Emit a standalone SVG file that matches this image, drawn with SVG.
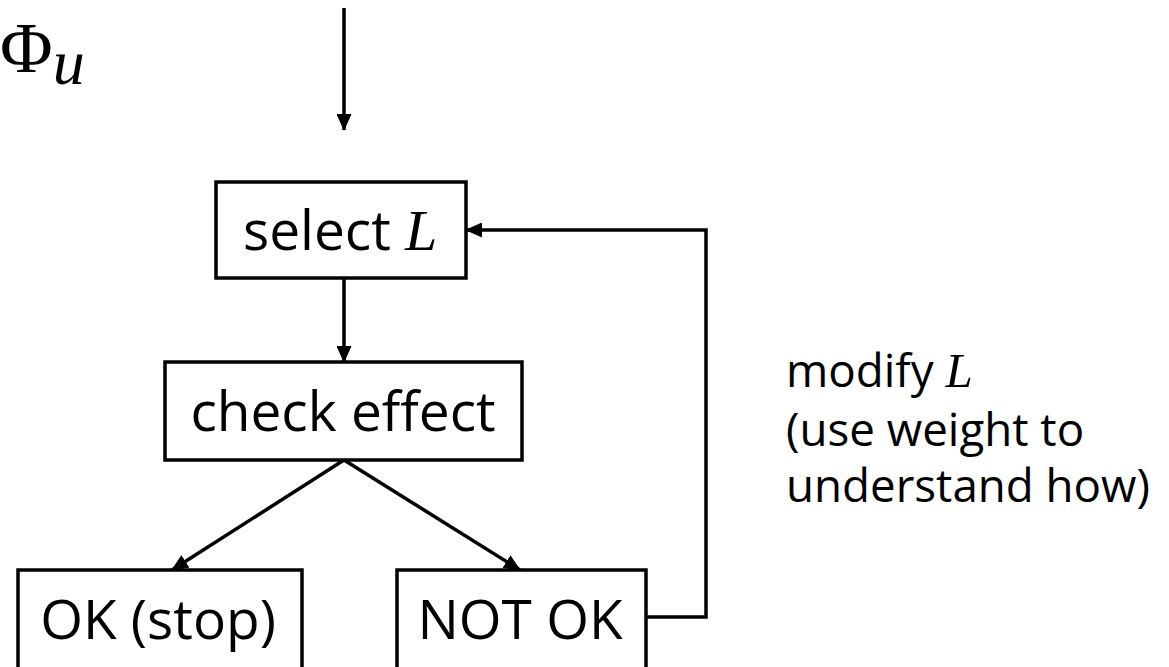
<svg xmlns="http://www.w3.org/2000/svg" width="1169" height="667" viewBox="0 0 1169 667">
<style>
.box{fill:#fff;stroke:#000;stroke-width:3.5}
.ln{fill:none;stroke:#000;stroke-width:3.5}
.t{font-family:"Open Sans","Liberation Sans",sans-serif;font-size:55px;fill:#000}
.n{font-family:"Open Sans","Liberation Sans",sans-serif;font-size:45.7px;fill:#000}
.m{font-family:"Liberation Serif","DejaVu Serif",serif;font-style:italic}
</style>
<defs>
<marker id="ahs" markerWidth="17" markerHeight="15" refX="16" refY="7.5" orient="auto" markerUnits="userSpaceOnUse" viewBox="0 0 17 15">
<path d="M0,0 L17,7.5 L0,15 Z" fill="#000"/>
</marker>
</defs>
<text x="0" y="72" font-family="Liberation Serif, DejaVu Serif, serif" font-size="72" fill="#000">Φ<tspan font-style="italic" font-size="64" dy="12">u</tspan></text>
<g id="connectors">
<line class="ln" x1="344" y1="8" x2="344" y2="130" marker-end="url(#ahs)"/>
<line class="ln" x1="344" y1="278" x2="344" y2="362" marker-end="url(#ahs)"/>
<line class="ln" x1="344" y1="460" x2="172" y2="570" marker-end="url(#ahs)"/>
<line class="ln" x1="344" y1="460" x2="520" y2="570" marker-end="url(#ahs)"/>
<polyline class="ln" points="646,617 706,617 706,230 466,230" marker-end="url(#ahs)"/>
</g>
<g id="select">
<rect class="box" x="216" y="182" width="250" height="96"/>
<text class="t" x="243" y="250">select <tspan class="m" font-size="58">L</tspan></text>
</g>
<g id="check">
<rect class="box" x="165" y="362" width="357" height="98"/>
<text class="t" x="343" y="431" text-anchor="middle">check effect</text>
</g>
<g id="ok">
<rect class="box" x="18" y="570" width="284" height="100"/>
<text class="t" x="158" y="639" text-anchor="middle">OK (stop)</text>
</g>
<g id="notok">
<rect class="box" x="397" y="570" width="249" height="100"/>
<text class="t" x="520" y="639" text-anchor="middle">NOT OK</text>
</g>
<g id="note">
<text class="n" x="786" y="387">modify <tspan class="m" font-size="49">L</tspan></text>
<text class="n" x="786" y="446">(use weight to</text>
<text class="n" x="786" y="502">understand how)</text>
</g>
</svg>
